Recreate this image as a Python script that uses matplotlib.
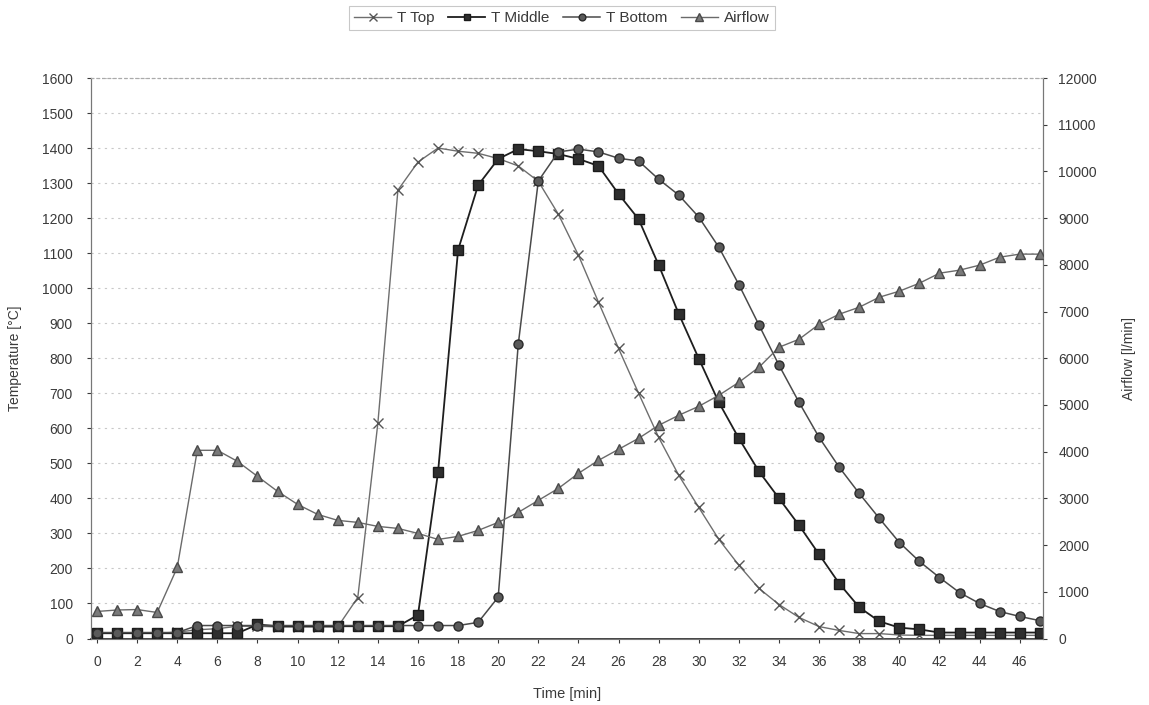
import matplotlib
matplotlib.use("Agg")
import matplotlib.pyplot as plt
import numpy as np

time_min = list(range(0, 48))

t_top = [15, 15, 15, 15, 18, 25, 28, 35, 35, 33, 33, 33, 33, 117, 614, 1280,
         1360, 1400, 1391, 1385, 1370, 1349, 1305, 1211, 1094, 960, 828, 700,
         574, 466, 374, 283, 209, 143, 97, 60, 34, 23, 14, 14, 10, 9,
         9, 9, 9, 9, 9, 9]

t_middle = [15, 15, 15, 15, 15, 15, 15, 15, 40, 35, 35, 35, 35, 35, 35, 35,
            67, 474, 1109, 1294, 1369, 1397, 1391, 1383, 1369, 1349, 1269, 1197,
            1066, 927, 799, 674, 571, 477, 400, 323, 240, 157, 89, 49, 31, 26,
            17, 17, 17, 17, 17, 17]

t_bottom = [17, 17, 17, 17, 17, 37, 37, 37, 37, 37, 37, 37, 37, 37, 37, 37,
            37, 37, 37, 46, 118, 840, 1306, 1389, 1397, 1389, 1371, 1363, 1311,
            1266, 1203, 1117, 1010, 895, 780, 674, 574, 489, 414, 343, 274, 220,
            174, 131, 100, 77, 63, 51]

airflow = [579, 610, 620, 557, 1521, 4029, 4029, 3793, 3471, 3150, 2871, 2657,
           2529, 2486, 2400, 2357, 2250, 2121, 2186, 2314, 2486, 2700, 2957, 3214,
           3536, 3814, 4050, 4286, 4564, 4779, 4971, 5207, 5486, 5807, 6236, 6407,
           6729, 6943, 7093, 7307, 7436, 7607, 7821, 7886, 7993, 8164, 8229, 8229]

temp_ticks = list(range(0, 1601, 100))
air_ticks = list(range(0, 12001, 1000))
time_ticks = list(range(0, 47, 2))

plt.rcParams['font.family'] = ['Liberation Sans', 'DejaVu Sans']
txt = '#3a3a3a'

fig = plt.figure(figsize=(11.49, 7.05), dpi=100)
ax = fig.add_axes([91 / 1149, 1 - 638.5 / 705, (1043 - 91) / 1149, (638.5 - 78) / 705])
ax2 = ax.twinx()

l1, = ax.plot(time_min, t_top, color='#6e6e6e', lw=1.0, marker='x', ms=7, mew=1.0,
              mec='#555555', label='T Top', zorder=3)
l2, = ax.plot(time_min, t_middle, color='#1e1e1e', lw=1.3, marker='s', ms=6.5,
              mfc='#2e2e2e', mec='#1a1a1a', label='T Middle', zorder=4)
l3, = ax.plot(time_min, t_bottom, color='#4a4a4a', lw=1.1, marker='o', ms=6.5,
              mfc='#5a5a5a', mec='#2a2a2a', label='T Bottom', zorder=5)
l4, = ax2.plot(time_min, airflow, color='#6a6a6a', lw=1.0, marker='^', ms=7,
               mfc='#7a7a7a', mec='#4a4a4a', label='Airflow', zorder=3)

ax.set_xlim(-0.3, 47.16)
ax.set_ylim(0, 1600)
ax2.set_ylim(0, 12000)
ax.set_xticks(time_ticks)
ax.set_yticks(temp_ticks)
ax2.set_yticks(air_ticks)

ax.yaxis.grid(True, color='#c8c8c8', linestyle=(0, (2, 4)), linewidth=0.8)
ax.set_axisbelow(True)

for a in (ax, ax2):
    a.tick_params(axis='both', labelsize=10, colors=txt, length=3, width=0.8)
    for s in a.spines.values():
        s.set_color('#777777')
        s.set_linewidth(0.8)
ax.spines['bottom'].set_color('#222222')
ax.spines['bottom'].set_linewidth(1.2)
ax.spines['top'].set_linestyle((0, (2, 3)))
ax2.spines['top'].set_linestyle((0, (2, 3)))
ax.spines['top'].set_color('#aaaaaa')
ax2.spines['top'].set_color('#aaaaaa')

ax.tick_params(axis='x', pad=9)
ax.tick_params(axis='y', pad=10)
ax2.tick_params(axis='y', pad=8)

ax.set_ylabel('Temperature [°C]', fontsize=10, color=txt, labelpad=14)
ax2.set_ylabel('Airflow [l/min]', fontsize=10, color=txt, labelpad=18)
ax.set_xlabel('Time [min]', fontsize=10.5, color=txt, labelpad=13)

leg = fig.legend(handles=[l1, l2, l3, l4], loc='center', bbox_to_anchor=(562 / 1149, 1 - 18 / 705),
                 ncol=4, frameon=True, fontsize=11, handlelength=2.4, handletextpad=0.4,
                 columnspacing=0.9, borderpad=0.35, markerscale=0.75)
leg.get_frame().set_edgecolor('#bbbbbb')
leg.get_frame().set_linewidth(0.8)
leg.get_frame().set_boxstyle('square', pad=0.0)
for t in leg.get_texts():
    t.set_color(txt)

fig.savefig('out.png', dpi=100)
